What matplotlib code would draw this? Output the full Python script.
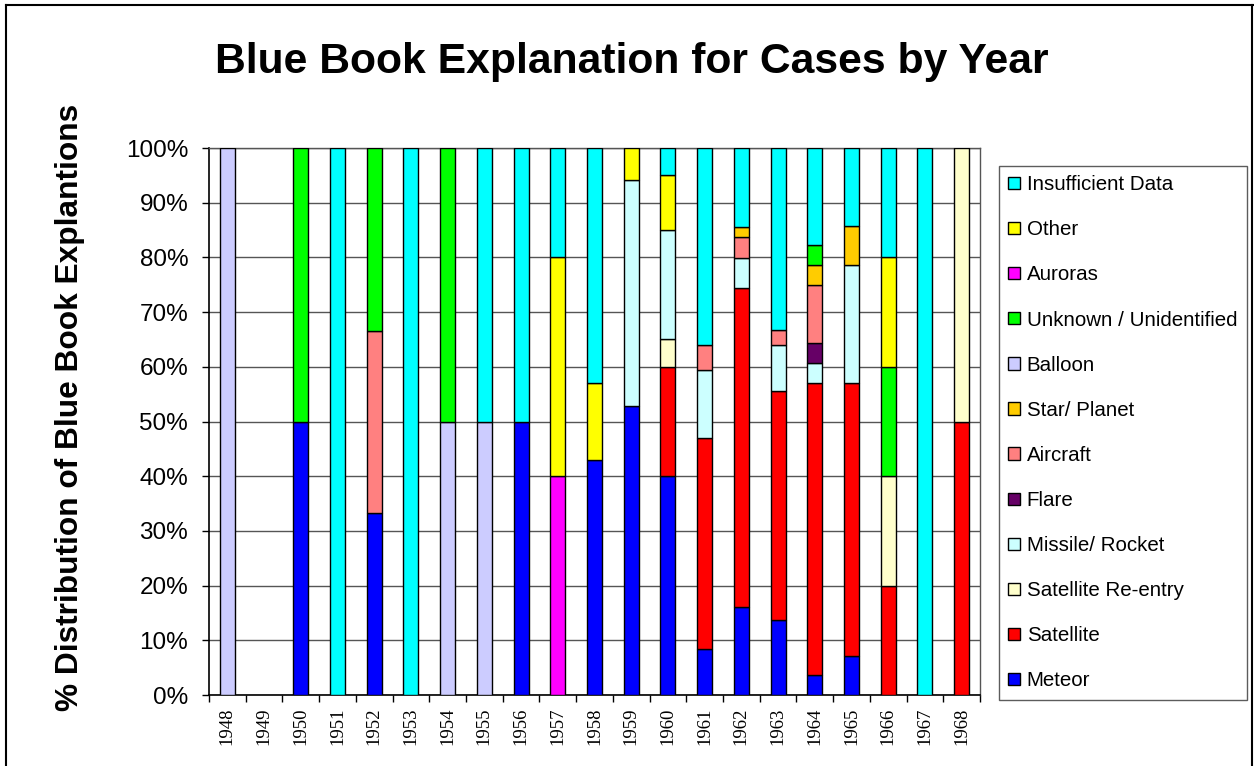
import matplotlib
matplotlib.use("Agg")
import matplotlib.pyplot as plt
import numpy as np
from matplotlib.lines import Line2D

plt.rcParams['font.family'] = ['Liberation Sans', 'DejaVu Sans']

years = [str(y) for y in range(1948, 1969)]

# percentages per year (1948..1968)
meteor       = [0, 0, 50, 0, 33.3, 0, 0, 0, 50, 0, 42.9, 52.9, 40, 8.5, 16.1, 13.7, 3.6, 7.1, 0, 0, 0]
satellite    = [0, 0, 0, 0, 0, 0, 0, 0, 0, 0, 0, 0, 20, 38.4, 58.3, 41.8, 53.5, 50.0, 20, 0, 50]
sat_reentry  = [0, 0, 0, 0, 0, 0, 0, 0, 0, 0, 0, 0, 5, 0, 0, 0, 0, 0, 20, 0, 50]
missile      = [0, 0, 0, 0, 0, 0, 0, 0, 0, 0, 0, 41.2, 20, 12.5, 5.5, 8.4, 3.6, 21.5, 0, 0, 0]
flare        = [0, 0, 0, 0, 0, 0, 0, 0, 0, 0, 0, 0, 0, 0, 0, 0, 3.6, 0, 0, 0, 0]
aircraft     = [0, 0, 0, 0, 33.3, 0, 0, 0, 0, 0, 0, 0, 0, 4.6, 3.9, 2.8, 10.7, 0, 0, 0, 0]
star_planet  = [0, 0, 0, 0, 0, 0, 0, 0, 0, 0, 0, 0, 0, 0, 1.8, 0, 3.6, 7.1, 0, 0, 0]
balloon      = [100, 0, 0, 0, 0, 0, 50, 50, 0, 0, 0, 0, 0, 0, 0, 0, 0, 0, 0, 0, 0]
unknown      = [0, 0, 50, 0, 33.4, 0, 50, 0, 0, 0, 0, 0, 0, 0, 0, 0, 3.6, 0, 20, 0, 0]
auroras      = [0, 0, 0, 0, 0, 0, 0, 0, 0, 40, 0, 0, 0, 0, 0, 0, 0, 0, 0, 0, 0]
other        = [0, 0, 0, 0, 0, 0, 0, 0, 0, 40, 14.2, 5.9, 10, 0, 0, 0, 0, 0, 20, 0, 0]
insufficient = [0, 0, 0, 100, 0, 100, 0, 50, 50, 20, 42.9, 0, 5, 36, 14.4, 33.3, 17.8, 14.3, 20, 100, 0]

series_names = ["Meteor", "Satellite", "Satellite Re-entry", "Missile/ Rocket", "Flare",
                "Aircraft", "Star/ Planet", "Balloon", "Unknown / Unidentified",
                "Auroras", "Other", "Insufficient Data"]
series_values = [meteor, satellite, sat_reentry, missile, flare, aircraft, star_planet,
                 balloon, unknown, auroras, other, insufficient]
series_colors = ["#0000FF", "#FF0000", "#FFFFCC", "#CCFFFF", "#660066", "#FF8080",
                 "#FFCC00", "#CCCCFF", "#00FF00", "#FF00FF", "#FFFF00", "#00FFFF"]

W, H = 1254, 766
fig = plt.figure(figsize=(W / 100, H / 100), dpi=100)
ax = fig.add_axes([209 / W, 1 - 695 / H, (980 - 209) / W, (695 - 148) / H])

x = np.arange(len(years))
bottom = np.zeros(len(years))
handles = []
for name, vals, col in zip(series_names, series_values, series_colors):
    v = np.array(vals, dtype=float)
    heights = np.where(v > 0, v, np.nan)
    b = ax.bar(x, heights, width=0.41, bottom=bottom, color=col, edgecolor="black",
               linewidth=1.0, label=name, zorder=3)
    handles.append(b)
    bottom += v

ax.set_xlim(-0.5, len(years) - 0.5)
ax.set_ylim(0, 100)
ax.set_yticks(np.arange(0, 101, 10))
ax.set_yticklabels([f"{v}%" for v in range(0, 101, 10)], fontsize=17.5)
ax.yaxis.grid(True, color="#555555", linewidth=1.0, zorder=0)
ax.set_axisbelow(True)

ax.set_xticks(x)
ax.set_xticklabels(years, rotation=90, fontsize=13.5,
                   fontfamily=["Liberation Serif", "DejaVu Serif"])
ax.set_xticks(np.arange(-0.5, len(years), 1), minor=True)
ax.tick_params(axis="x", which="major", length=0, pad=9)
ax.tick_params(axis="x", which="minor", length=5, width=1, direction="out")
ax.tick_params(axis="y", which="major", length=5, width=1, direction="out", pad=10)

for s in ["left", "bottom"]:
    ax.spines[s].set_color("black")
    ax.spines[s].set_linewidth(1.2)
for s in ["right", "top"]:
    ax.spines[s].set_color("#555555")
    ax.spines[s].set_linewidth(1.0)

fig.text(70 / W, 1 - 407.5 / H, "% Distribution of Blue Book Explantions",
         rotation=90, ha="center", va="center", fontsize=22.8, fontweight="bold")

fig.text(631.5 / W, 1 - 73 / H, "Blue Book Explanation for Cases by Year",
         ha="center", va="baseline", fontsize=30.7, fontweight="bold")

leg = ax.legend(handles[::-1], series_names[::-1], loc="upper left",
                bbox_to_anchor=(999 / W, 1 - 166 / H), bbox_transform=fig.transFigure,
                fontsize=14.8, frameon=True, fancybox=False, handlelength=0.55,
                handleheight=0.55, handletextpad=0.35, labelspacing=1.27,
                borderpad=0.45, borderaxespad=0)
leg.get_frame().set_edgecolor("#333333")
leg.get_frame().set_linewidth(1.0)

# chart area border
fig.add_artist(Line2D([6 / W, 6 / W], [0, 1 - 5 / H], transform=fig.transFigure,
                      color="black", linewidth=1.5))
fig.add_artist(Line2D([6 / W, 1253 / W], [1 - 5 / H, 1 - 5 / H], transform=fig.transFigure,
                      color="black", linewidth=1.5))
fig.add_artist(Line2D([1252 / W, 1252 / W], [0, 1 - 5 / H], transform=fig.transFigure,
                      color="black", linewidth=1.5))

fig.savefig("out.png", dpi=100)
